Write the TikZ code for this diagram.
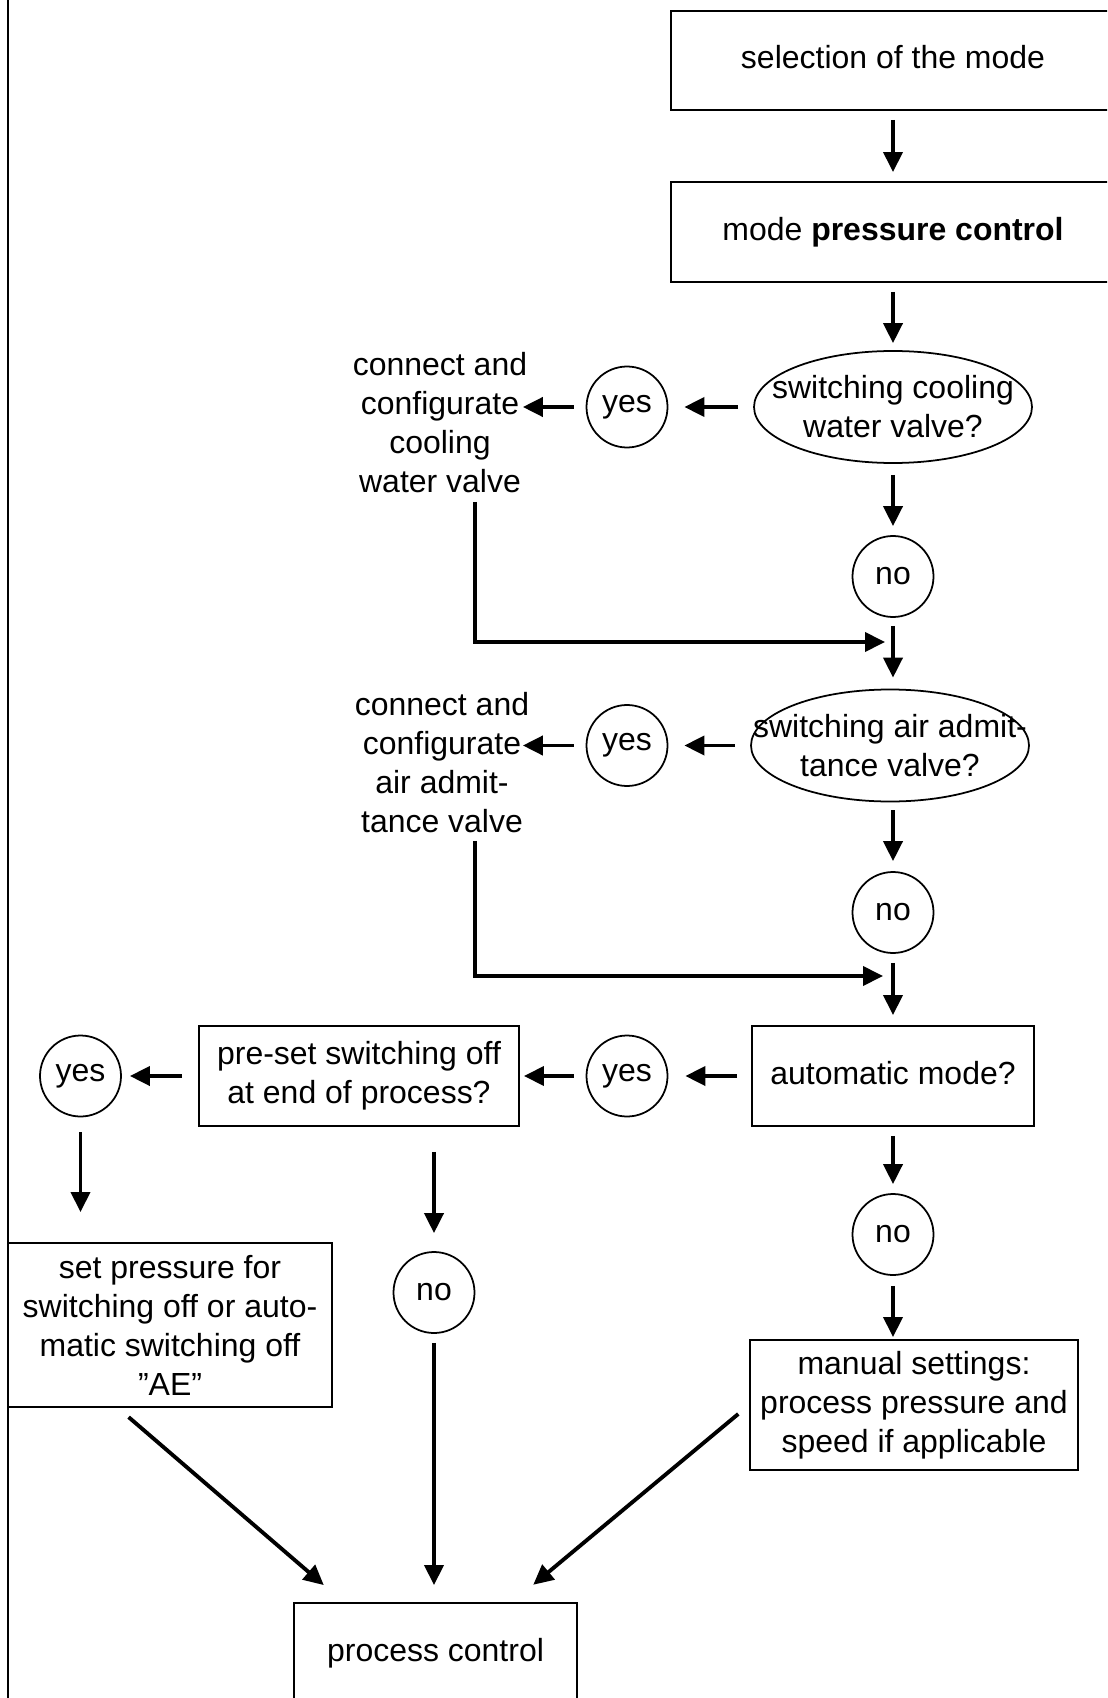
\documentclass[tikz,border=0pt]{standalone}
\usepackage{fontspec}
\setmainfont{Liberation Sans}
\usetikzlibrary{arrows.meta,shapes.geometric}

\begin{document}
\begin{tikzpicture}[
    font=\fontsize{9.1}{11.1}\selectfont,
    stepbox/.style={draw, line width=0.55pt, rectangle, inner sep=0pt},
    oneline/.style={text depth=0.07cm},
    question/.style={draw, line width=0.5pt, ellipse, minimum width=2.78cm, minimum height=1.12cm, inner xsep=-0.5cm, inner ysep=0pt, align=center},
    answer/.style={draw, line width=0.5pt, circle, minimum size=0.81cm, inner sep=0pt},
    note/.style={align=center, inner sep=0pt, anchor=north},
    arr/.style={-{Triangle[length=0.2cm, width=0.19cm]}, line width=1.1pt, shorten <=0.09cm, shorten >=0.09cm}
]
    \useasboundingbox (0,0) rectangle (11.07,-16.98);
    \clip (0,0) rectangle (11.07,-16.98);
    % frame line on the left
    \draw [line width=0.5pt] (0.08,0) -- (0.08,-16.98);

    % right column
    \node [stepbox, oneline, minimum width=4.44cm, minimum height=0.99cm] (select) at (8.93,-0.605) {selection of the mode};
    \node [stepbox, minimum width=4.44cm, minimum height=1cm] (mode) at (8.93,-2.32) {mode \textbf{pressure control}};
    \node [question] (cooling) at (8.93,-4.07) {switching cooling\\water valve?};
    \node [answer] (yesA) at (6.27,-4.07) {yes};
    \node [note] (coolText) at (4.40,-3.52) {connect and\\configurate\\cooling\\water valve};
    \node [answer] (noA) at (8.93,-5.765) {no};
    \coordinate (joinA) at (8.85,-6.42);
    \node [question] (air) at (8.90,-7.455) {switching air admit-\\tance valve?};
    \node [answer] (yesB) at (6.27,-7.455) {yes};
    \node [note] (airText) at (4.42,-6.92) {connect and\\configurate\\air admit-\\tance valve};
    \node [answer] (noB) at (8.93,-9.125) {no};
    \coordinate (joinB) at (8.83,-9.76);
    \node [stepbox, oneline, minimum width=2.82cm, minimum height=1cm] (auto) at (8.93,-10.76) {automatic mode?};
    \node [answer] (noD) at (8.93,-12.345) {no};
    \node [stepbox, align=center, minimum width=3.28cm, minimum height=1.3cm] (manual) at (9.14,-14.05) {manual settings:\\process pressure and\\speed if applicable};

    % left part
    \node [answer] (yesC) at (6.27,-10.76) {yes};
    \node [stepbox, align=center, minimum width=3.2cm, minimum height=1cm] (preset) at (3.59,-10.76) {pre-set switching off\\at end of process?};
    \node [answer] (yesD) at (0.805,-10.76) {yes};
    \node [stepbox, align=center, minimum width=3.24cm, minimum height=1.64cm] (setp) at (1.70,-13.25) {set pressure for\\switching off or auto-\\matic switching off\\”AE”};
    \node [answer] (noC) at (4.34,-12.925) {no};
    \node [stepbox, minimum width=2.83cm, minimum height=1cm] (proc) at (4.355,-16.53) {process control};

    % arrows
    \draw [arr] (select) -- (mode);
    \draw [arr, shorten >=0.07cm] (mode) -- (cooling);
    \draw [arr, shorten <=0.11cm] (cooling) -- (noA);
    \draw [arr, shorten <=0.08cm, shorten >=0.11cm] (noA) -- (noA |- air.north);
    \draw [arr, shorten <=0.08cm, shorten >=0.1cm] (noB |- air.south) -- (noB);
    \draw [arr, shorten >=0.1cm] (noB) -- (auto);
    \draw [arr] (auto) -- (noD);
    \draw [arr, shorten <=0.1cm, shorten >=0.02cm] (noD) -- (noD |- manual.north);
    \draw [arr, shorten <=0.15cm, shorten >=0.16cm] (cooling) -- (yesA);
    \draw [arr, shorten <=0.12cm, shorten >=-0.05cm] (yesA) -- (yesA -| coolText.east);
    \draw [arr, shorten <=0.15cm, shorten >=0.16cm] (air) -- (yesB);
    \draw [arr, shorten <=0.12cm, shorten >=-0.07cm] (yesB) -- (yesB -| airText.east);
    \draw [arr, shorten <=0.08cm, shorten >=0cm] ([xshift=0.35cm]coolText.south) |- (joinA);
    \draw [arr, shorten <=0.07cm, shorten >=0cm] ([xshift=0.33cm]airText.south) |- (joinB);
    \draw [arr, shorten <=0.14cm, shorten >=0.17cm] (auto) -- (yesC);
    \draw [arr, shorten <=0.12cm, shorten >=0.04cm] (yesC) -- (preset);
    \draw [arr, shorten <=0.16cm, shorten >=0.08cm] (preset) -- (yesD);
    \draw [arr, shorten <=0.15cm, shorten >=0.3cm] (yesD) -- (yesD |- setp.north);
    \draw [arr, shorten <=0.25cm, shorten >=0.18cm] (preset.south -| noC) -- (noC);
    \draw [arr, shorten >=0.17cm] (noC) -- (noC |- proc.north);
    \draw [arr, shorten <=0.14cm, shorten >=0.26cm] ([xshift=-0.52cm]setp.south) -- ([xshift=-0.92cm]proc.north);
    \draw [arr, shorten <=0.14cm, shorten >=0.27cm] (manual.west) -- ([xshift=0.77cm]proc.north);
\end{tikzpicture}
\end{document}
